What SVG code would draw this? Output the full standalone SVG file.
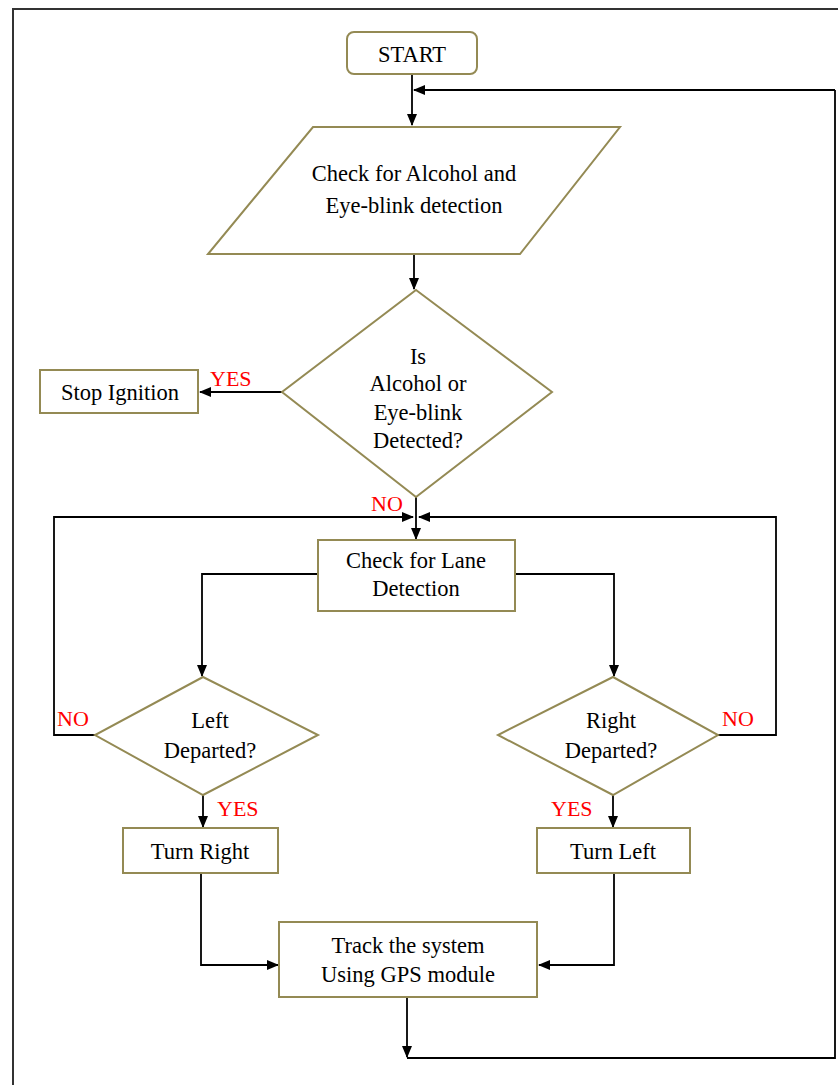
<svg xmlns="http://www.w3.org/2000/svg" width="838" height="1085" viewBox="0 0 838 1085">
<defs>
<marker id="ah" markerUnits="userSpaceOnUse" markerWidth="12" markerHeight="10" refX="11" refY="5" orient="auto">
<path d="M0,0 L12,5 L0,10 Z" fill="#000"/>
</marker>
<style>
.shape{fill:#fff;stroke:#948a54;stroke-width:2}
.t{font-family:"Liberation Serif","Times New Roman","DejaVu Serif",serif;font-size:22.5px;fill:#000;text-anchor:middle}
.lbl{font-family:"Liberation Serif","Times New Roman","DejaVu Serif",serif;font-size:22px;fill:#ff0000}
.c{fill:none;stroke:#000;stroke-width:1.8}
</style>
</defs>
<rect width="838" height="1085" fill="#fff"/>
<rect x="13" y="9" width="835" height="1090" fill="none" stroke="#333" stroke-width="2"/>

<g id="connectors">
<path class="c" d="M412,74 V125" marker-end="url(#ah)"/>
<path class="c" d="M835,90 H414" marker-end="url(#ah)"/>
<path class="c" d="M414,254 V289" marker-end="url(#ah)"/>
<path class="c" d="M282,392 H200" marker-end="url(#ah)"/>
<path class="c" d="M416,497 V539" marker-end="url(#ah)"/>
<path class="c" d="M95,735 H54 V517 H413" marker-end="url(#ah)"/>
<path class="c" d="M718,735 H776 V517 H419" marker-end="url(#ah)"/>
<path class="c" d="M318,574 H202 V676" marker-end="url(#ah)"/>
<path class="c" d="M515,574 H614 V676" marker-end="url(#ah)"/>
<path class="c" d="M203,795 V827" marker-end="url(#ah)"/>
<path class="c" d="M613,795 V827" marker-end="url(#ah)"/>
<path class="c" d="M201,873 V965 H278" marker-end="url(#ah)"/>
<path class="c" d="M614,873 V965 H539" marker-end="url(#ah)"/>
<path class="c" d="M407,997 V1057" marker-end="url(#ah)"/>
<path class="c" d="M407,1058 H835 V90"/>
</g>

<g id="start">
<rect class="shape" x="347" y="32" width="130" height="42" rx="7"/>
<text class="t" x="412" y="62">START</text>
</g>

<g id="check-alcohol">
<polygon class="shape" points="313,127 620,127 520,254 208,254"/>
<text class="t" x="414" y="181">Check for Alcohol and</text>
<text class="t" x="414" y="213">Eye-blink detection</text>
</g>

<g id="decision-alcohol">
<polygon class="shape" points="416,290 552,392 416,497 282,392"/>
<text class="t" x="418" y="364">Is</text>
<text class="t" x="418" y="391">Alcohol or</text>
<text class="t" x="418" y="420">Eye-blink</text>
<text class="t" x="418" y="448">Detected?</text>
</g>

<g id="stop-ignition">
<rect class="shape" x="40" y="370" width="158" height="43"/>
<text class="t" x="120" y="400">Stop Ignition</text>
</g>

<g id="lane-detection">
<rect class="shape" x="318" y="540" width="197" height="71"/>
<text class="t" x="416" y="568">Check for Lane</text>
<text class="t" x="416" y="596">Detection</text>
</g>

<g id="left-departed">
<polygon class="shape" points="203,677 318,735 203,795 95,735"/>
<text class="t" x="210" y="728">Left</text>
<text class="t" x="210" y="758">Departed?</text>
</g>

<g id="right-departed">
<polygon class="shape" points="613,677 718,735 613,795 498,735"/>
<text class="t" x="611" y="728">Right</text>
<text class="t" x="611" y="758">Departed?</text>
</g>

<g id="turn-right">
<rect class="shape" x="123" y="828" width="155" height="45"/>
<text class="t" x="200" y="859">Turn Right</text>
</g>

<g id="turn-left">
<rect class="shape" x="537" y="828" width="153" height="45"/>
<text class="t" x="613" y="859">Turn Left</text>
</g>

<g id="gps">
<rect class="shape" x="279" y="922" width="258" height="75"/>
<text class="t" x="408" y="953">Track the system</text>
<text class="t" x="408" y="982">Using GPS module</text>
</g>

<g id="labels">
<text class="lbl" x="210" y="386">YES</text>
<text class="lbl" x="371" y="511">NO</text>
<text class="lbl" x="57" y="726">NO</text>
<text class="lbl" x="722" y="726">NO</text>
<text class="lbl" x="217" y="816">YES</text>
<text class="lbl" x="551" y="816">YES</text>
</g>
</svg>
